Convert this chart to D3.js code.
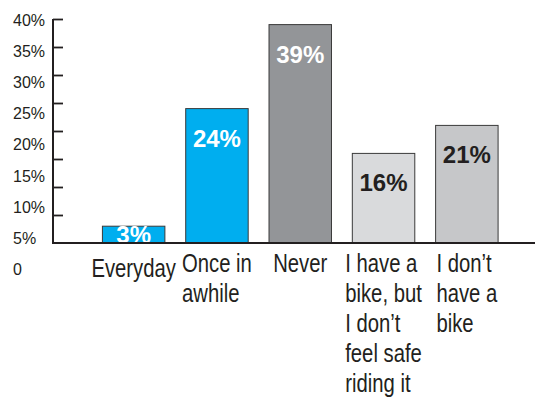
<!DOCTYPE html>
<html>
<head>
<meta charset="utf-8">
<script src="https://cdn.jsdelivr.net/npm/d3@7"></script>
<style>
  html, body { margin: 0; padding: 0; background: #fff; }
  svg { display: block; }
</style>
</head>
<body>
<script>
// How often people ride a bike
const categories = ["Everyday", "Once in awhile", "Never", "I have a bike, but I don't feel safe riding it", "I don't have a bike"];
const categoryLines = [
  ["Everyday"],
  ["Once in", "awhile"],
  ["Never"],
  ["I have a", "bike, but", "I don\u2019t", "feel safe", "riding it"],
  ["I don\u2019t", "have a", "bike"]
];
const shares = [3, 24, 39, 16, 21];
const barColors = ["#00aeef", "#00aeef", "#939598", "#d9dadc", "#c6c7c9"];
const valueColors = ["#ffffff", "#ffffff", "#ffffff", "#231f20", "#231f20"];
const tickValues = [0, 5, 10, 15, 20, 25, 30, 35, 40];
const tickLabels = ["0", "5%", "10%", "15%", "20%", "25%", "30%", "35%", "40%"];

const W = 535, H = 398;
const ink = "#231f20";
const sans = "'Liberation Sans', Arial, Helvetica, sans-serif";

const svg = d3.select("body").append("svg")
  .attr("width", W).attr("height", H)
  .style("background", "#fff");

const x = d3.scaleBand()
  .domain(categories)
  .range([92, 508.5])
  .paddingInner(0.25)
  .paddingOuter(0.125);

const y = d3.scaleLinear().domain([0, 40]).range([243, 19]);

// tick labels sit on their own, slightly looser ladder
const yLabel = d3.scaleLinear().domain([0, 40]).range([275, 25.7]);

// bars
svg.append("g").selectAll("rect")
  .data(shares)
  .join("rect")
  .attr("x", (d, i) => x(categories[i]))
  .attr("y", d => y(d))
  .attr("width", x.bandwidth())
  .attr("height", d => y(0) - y(d))
  .attr("fill", (d, i) => barColors[i])
  .attr("stroke", "#3a3a3a")
  .attr("stroke-width", 1);

// value labels inside the bars
svg.append("g").selectAll("text")
  .data(shares)
  .join("text")
  .attr("x", (d, i) => x(categories[i]) + x.bandwidth() / 2)
  .attr("y", d => Math.min(y(d) + 38, y(0)))
  .attr("text-anchor", "middle")
  .attr("font-family", sans)
  .attr("font-weight", "bold")
  .attr("font-size", 24)
  .attr("fill", (d, i) => valueColors[i])
  .text(d => d + "%");

// tick marks pointing inward from the axis
const axis = d3.axisRight(y)
  .tickValues(tickValues.filter(v => v > 0))
  .tickSize(10)
  .tickFormat("");
const axisG = svg.append("g").attr("transform", "translate(53,0)").call(axis);
axisG.select(".domain").remove();
axisG.selectAll(".tick line").attr("stroke", ink).attr("stroke-width", 1.8);

// axis lines
svg.append("line")
  .attr("x1", 53).attr("x2", 53)
  .attr("y1", y(40)).attr("y2", y(0))
  .attr("stroke", ink).attr("stroke-width", 2);
svg.append("line")
  .attr("x1", 52).attr("x2", W)
  .attr("y1", y(0)).attr("y2", y(0))
  .attr("stroke", ink).attr("stroke-width", 2);

// y tick labels
svg.append("g").selectAll("text")
  .data(tickValues)
  .join("text")
  .attr("x", 13)
  .attr("y", d => yLabel(d))
  .attr("font-family", sans)
  .attr("font-size", 16)
  .attr("fill", ink)
  .text((d, i) => tickLabels[i]);

// category labels: condensed, left-aligned lines, block centred under each bar
const squeeze = 0.78;
const catG = svg.append("g");
categoryLines.forEach((lines, i) => {
  const g = catG.append("g");
  const t = g.append("text")
    .attr("font-family", sans)
    .attr("font-size", 26)
    .attr("fill", ink);
  const nudge = i === 0 ? 5 : 0;
  lines.forEach((ln, j) => {
    t.append("tspan").attr("x", 0).attr("y", 271.7 + nudge + j * 30).text(ln);
  });
  let maxW = 0;
  t.selectAll("tspan").each(function () {
    maxW = Math.max(maxW, this.getComputedTextLength());
  });
  const left = x(categories[i]) + x.bandwidth() / 2 - (maxW * squeeze) / 2;
  g.attr("transform", `translate(${left},0) scale(${squeeze},1)`);
});
</script>
</body>
</html>
